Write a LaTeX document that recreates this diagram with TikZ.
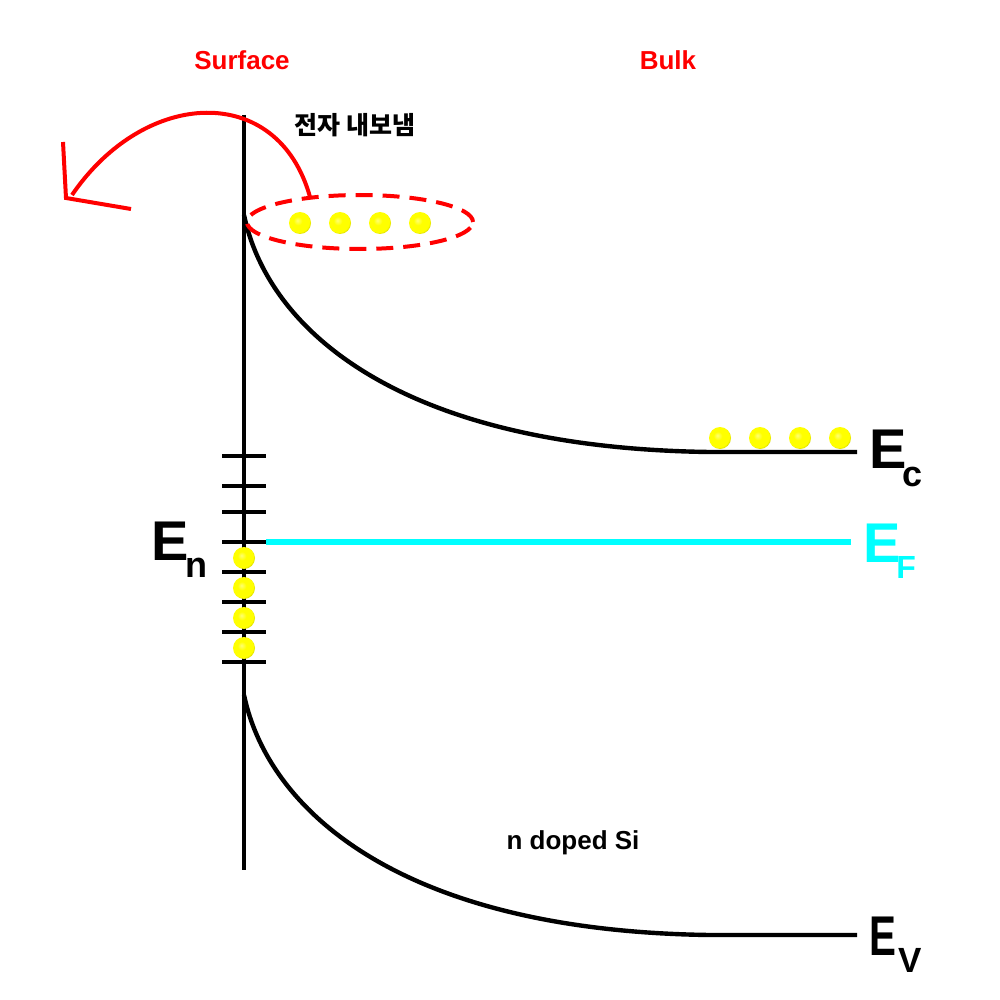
\documentclass[tikz,border=0pt]{standalone}
\usepackage{fontspec}
\setmainfont{Liberation Sans}
\newfontfamily\krfont{Noto Sans CJK KR}
\usetikzlibrary{shapes.geometric}
\definecolor{aqua}{RGB}{0,255,255}
\definecolor{pured}{RGB}{255,0,0}
\definecolor{yel}{RGB}{255,255,0}
\pgfdeclareradialshading{yball}{\pgfpoint{-6bp}{6bp}}{color(0bp)=(yel!55!white); color(10bp)=(yel); color(24bp)=(yel); color(30bp)=(yel!75!black); color(36bp)=(yel!50!black); color(50bp)=(yel!40!black)}
\begin{document}
\begin{tikzpicture}[x=0.5pt,y=-0.5pt,
  band/.style={line width=2.2pt, black},
  tick/.style={line width=2.2pt, black},
  fermi/.style={line width=2.6pt, aqua},
  emit/.style={line width=2pt, pured},
  ballnode/.style={circle, inner sep=0pt, minimum size=11pt, shading=yball},
  bigE/.style={font=\bfseries\fontsize{28}{28}\selectfont, inner sep=0pt, anchor=base west},
  title/.style={font=\bfseries\fontsize{13}{13}\selectfont, inner sep=0pt, pured},
  plain/.style={font=\bfseries\fontsize{13}{13}\selectfont, inner sep=0pt},
]
\useasboundingbox (0,0) rectangle (1000,1000);

% titles
\node[title] (surface) at (242,60) {Surface};
\node[title] (bulk) at (668,60) {Bulk};
\node[plain, font=\krfont\bfseries\fontsize{12.5}{12.5}\selectfont] (emitlabel) at (355,125) {전자 내보냄};
\node[plain] (ndoped) at (573,843) {n doped Si};

% surface line
\coordinate (stop) at (244,115);
\coordinate (sbot) at (244,870);
\draw[band] (stop) -- (sbot);

% surface states ticks
\foreach \y [count=\i] in {456,486,512,542,572,602,632,662} {
  \coordinate (tl\i) at (222,\y);
  \coordinate (tr\i) at (266,\y);
  \draw[tick] (tl\i) -- (tr\i);
}

% Fermi level
\coordinate (fs) at (266,542);
\coordinate (fe) at (851,542);
\draw[fermi] (fs) -- (fe);

% conduction band
\coordinate (ecs) at (244,215);
\coordinate (ecm) at (710,452);
\coordinate (ece) at (857,452);
\draw[band] (ecs) .. controls (268,330) and (400,448) .. (ecm) -- (ece);

% valence band
\coordinate (evs) at (244,695);
\coordinate (evm) at (710,935);
\coordinate (eve) at (857,935);
\draw[band] (evs) .. controls (268,810) and (400,931) .. (evm) -- (eve);

% electrons in surface states
\foreach \y [count=\i] in {558,588,618,648} {
  \node[ballnode] (ss\i) at (244,\y) {};
}

% electrons in conduction band (bulk)
\foreach \x [count=\i] in {720,760,800,840} {
  \node[ballnode] (cb\i) at (\x,438) {};
}

% emitted electrons group
\node[ellipse, draw=pured, line width=2pt, dash pattern=on 8.5pt off 5pt,
      minimum width=113pt, minimum height=27pt, inner sep=0pt] (group) at (360,222) {};
\foreach \x [count=\i] in {300,340,380,420} {
  \node[ballnode] (em\i) at (\x,223) {};
}

% emission arrow
\coordinate (arcs) at (310,197);
\coordinate (arce) at (72,195);
\draw[emit] (arcs) .. controls (278,82) and (145,88) .. (arce);
\coordinate (h1) at (63,142);
\coordinate (h2) at (66,198);
\coordinate (h3) at (131,209);
\draw[emit] (h1) -- (h2) -- (h3);

% energy labels
\node[bigE] (Ec) at (869,468) {E\kern-2.15pt\raisebox{-9pt}{\fontsize{18}{18}\selectfont c}};
\node[bigE, aqua] (Ef) at (863,562) {E\kern-2.15pt\raisebox{-8pt}{\fontsize{16}{16}\selectfont F}};
\node[bigE] (En) at (151,560) {E\kern-1.7pt\raisebox{-8.5pt}{\fontsize{18}{18}\selectfont n}};
\node[bigE] (Ev) at (869,955) {\scalebox{0.72}[1]{E}\kern1.25pt\raisebox{-8.5pt}{\fontsize{17.5}{17.5}\selectfont V}};
\end{tikzpicture}
\end{document}
